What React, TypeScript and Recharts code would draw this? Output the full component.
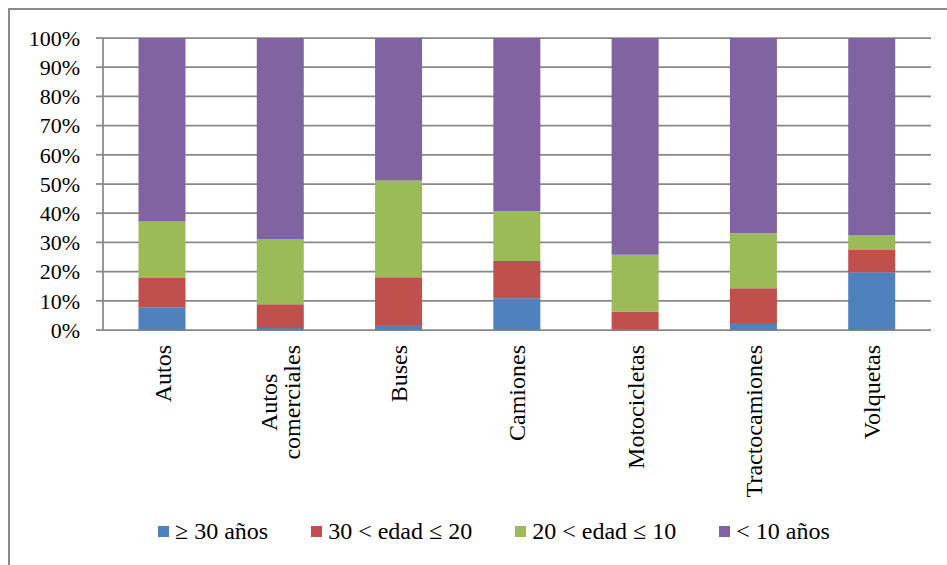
import React from "react";
import { BarChart, Bar, XAxis, YAxis, CartesianGrid } from "recharts";

const categories = [
  "Autos",
  "Autos\ncomerciales",
  "Buses",
  "Camiones",
  "Motocicletas",
  "Tractocamiones",
  "Volquetas",
];

// shares in percent
const sobre30 = [7.6, 0.7, 1.7, 10.9, 0.1, 2.4, 19.8];
const entre30y20 = [10.2, 8.1, 16.4, 12.7, 6.2, 11.9, 7.6];
const entre20y10 = [19.4, 22.4, 33.1, 17.1, 19.5, 18.8, 5.1];
const menos10 = [62.8, 68.8, 48.8, 59.3, 74.2, 66.9, 67.5];

const yTicks = [0, 10, 20, 30, 40, 50, 60, 70, 80, 90, 100];

const series = [
  { key: "a", name: "≥ 30 años", values: sobre30, color: "#4F81BD" },
  { key: "b", name: "30 < edad ≤ 20", values: entre30y20, color: "#C0504D" },
  { key: "c", name: "20 < edad ≤ 10", values: entre20y10, color: "#9BBB59" },
  { key: "d", name: "< 10 años", values: menos10, color: "#8064A2" },
];

const data = categories.map((cat, i) => {
  const row: Record<string, string | number> = { cat };
  series.forEach((s) => (row[s.key] = s.values[i]));
  return row;
});

const edgeTicks = [...categories.map((_, i) => i), categories.length];

const FONT = "'Liberation Serif', 'Times New Roman', serif";
const GRID = "#888888";

let measureCtx: CanvasRenderingContext2D | null = null;
function textWidth(s: string, size: number) {
  if (!measureCtx) measureCtx = document.createElement("canvas").getContext("2d");
  if (!measureCtx) return s.length * size * 0.45;
  measureCtx.font = `${size}px 'Liberation Serif'`;
  return measureCtx.measureText(s).width;
}

function CategoryTick(props: any) {
  const { x, y, payload } = props;
  const size = 24;
  const lh = 23;
  const lines = String(payload.value).split("\n");
  const longest = Math.max(...lines.map((l) => textWidth(l, size)));
  return (
    <g transform={`translate(${x},${y}) rotate(-90)`}>
      <text fontFamily={FONT} fontSize={size} fill="#000" textAnchor="middle">
        {lines.map((l, i) => (
          <tspan key={i} x={-longest / 2} y={(i - (lines.length - 1) / 2) * lh} dy="0.35em">
            {l}
          </tspan>
        ))}
      </text>
    </g>
  );
}

export default function App() {
  return (
    <div
      style={{
        position: "fixed",
        left: 0,
        top: 0,
        width: 947,
        height: 565,
        background: "#fff",
        overflow: "hidden",
      }}
    >
      <div
        style={{
          position: "absolute",
          left: 8,
          top: 8,
          width: 1000,
          height: 1000,
          border: "2px solid #8a8a8a",
        }}
      />
      <BarChart
        width={947}
        height={565}
        data={data}
        margin={{ top: 38, right: 16, bottom: 0, left: 0 }}
        barCategoryGap="30%"
      >
        <CartesianGrid horizontal vertical={false} stroke={GRID} strokeWidth={1.75} />
        <XAxis
          xAxisId="edges"
          type="number"
          domain={[0, categories.length]}
          allowDataOverflow
          ticks={edgeTicks}
          tick={false}
          tickSize={7}
          height={0}
          axisLine={{ stroke: GRID, strokeWidth: 1.75 }}
          tickLine={{ stroke: GRID, strokeWidth: 1.75 }}
        />
        <XAxis
          dataKey="cat"
          interval={0}
          height={235}
          axisLine={false}
          tickLine={false}
          tickSize={0}
          tickMargin={15}
          tick={<CategoryTick />}
        />
        <YAxis
          width={103}
          domain={[0, 100]}
          ticks={yTicks}
          interval={0}
          tickFormatter={(v: number) => `${v}%`}
          tickSize={7}
          tickMargin={16}
          axisLine={{ stroke: GRID, strokeWidth: 1.75 }}
          tickLine={{ stroke: GRID, strokeWidth: 1.75 }}
          tick={{ fill: "#000", fontSize: 22, fontFamily: FONT }}
        />
        {series.map((s) => (
          <Bar
            key={s.key}
            dataKey={s.key}
            name={s.name}
            stackId="t"
            fill={s.color}
            isAnimationActive={false}
          />
        ))}
      </BarChart>
      <div
        style={{
          position: "absolute",
          left: 158,
          top: 516,
          height: 30,
          display: "flex",
          alignItems: "center",
          fontFamily: FONT,
          fontSize: 24,
          color: "#000",
          whiteSpace: "nowrap",
        }}
      >
        {series.map((s) => (
          <div key={s.key} style={{ display: "flex", alignItems: "center", marginRight: 43 }}>
            <span
              style={{ display: "inline-block", width: 11, height: 11, background: s.color, marginRight: 6 }}
            />
            <span>{s.name}</span>
          </div>
        ))}
      </div>
    </div>
  );
}
